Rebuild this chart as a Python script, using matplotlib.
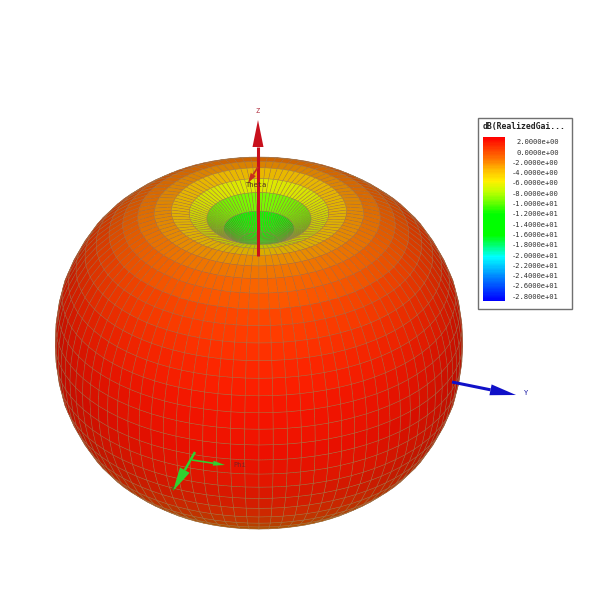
"""Realized gain pattern of a dipole, rendered like an HFSS 3D polar plot."""
import matplotlib

matplotlib.use("Agg")
import matplotlib.pyplot as plt
import numpy as np
from matplotlib.colors import LinearSegmentedColormap, Normalize
from matplotlib.patches import Polygon, Rectangle

# theta = 0..180 in 5 deg steps
theta_deg = list(range(0, 185, 5))
gain_db = [
    -13.0, -13.0, -12.5, -11.0, -8.0, -5.5, -3.5, -2.5, -1.8, -1.2,
    -0.7, -0.2, 0.2, 0.5, 0.8, 1.0, 1.15, 1.25, 1.3,
    1.3, 1.25, 1.1, 0.9, 0.6, 0.1, -0.6, -1.4, -2.2, -3.0,
    -4.0, -5.5, -8.0, -10.5, -12.0, -12.5, -12.5, -12.5,
]
radius = [
    0.50, 0.52, 0.58, 0.67, 0.75, 0.81, 0.86, 0.895, 0.925, 0.945,
    0.96, 0.975, 0.985, 0.99, 0.995, 1.0, 1.0, 1.0, 1.0,
    1.0, 1.0, 1.0, 0.995, 0.99, 0.985, 0.975, 0.96, 0.945, 0.925,
    0.895, 0.86, 0.81, 0.75, 0.67, 0.58, 0.52, 0.50,
]
phi_deg = list(range(0, 364, 4))

legend_title = "dB(RealizedGai..."
legend_values = [2, 0, -2, -4, -6, -8, -10, -12, -14, -16, -18, -20, -22, -24, -26, -28]
legend_labels = [
    "2.0000e+00", "0.0000e+00", "-2.0000e+00", "-4.0000e+00", "-6.0000e+00",
    "-8.0000e+00", "-1.0000e+01", "-1.2000e+01", "-1.4000e+01", "-1.6000e+01",
    "-1.8000e+01", "-2.0000e+01", "-2.2000e+01", "-2.4000e+01", "-2.6000e+01",
    "-2.8000e+01",
]
scale_colors = [
    "#0000ff", "#003cff", "#0078ff", "#00beff", "#00ffff", "#00ff78", "#00ff00",
    "#00ff00", "#00ff00", "#64ff00", "#beff00", "#fff000", "#ffbe00", "#ff7800",
    "#ff3c00", "#ff0000",
]

ELEV, AZIM = 30, 20
cmap = LinearSegmentedColormap.from_list("hfss", scale_colors)
norm = Normalize(-28, 2)

fig = plt.figure(figsize=(6, 6), dpi=100, facecolor="white")

# 3D surface, centred on the body of the pattern
size = 0.98
cx, cy = 251 / 600, 1 - 351 / 600
ax = fig.add_axes([cx - size / 2, cy - size / 2, size, size], projection="3d")
ax.set_proj_type("ortho")
ax.view_init(elev=ELEV, azim=AZIM)

th, ph = np.meshgrid(np.radians(theta_deg), np.radians(phi_deg), indexing="ij")
g = np.array(gain_db)[:, None] * np.ones((1, len(phi_deg)))
r = np.array(radius)[:, None] * np.ones((1, len(phi_deg)))
x = r * np.sin(th) * np.cos(ph)
y = r * np.sin(th) * np.sin(ph)
z = r * np.cos(th)

# light sits a bit above the camera
el, az = np.radians(ELEV + 8), np.radians(AZIM)
light = np.array([np.cos(el) * np.cos(az), np.cos(el) * np.sin(az), np.sin(el)])
p = np.stack([x, y, z], axis=-1)
d1 = p[1:, 1:] - p[:-1, :-1]
d2 = p[1:, :-1] - p[:-1, 1:]
n = np.cross(d1, d2)
n /= np.linalg.norm(n, axis=-1, keepdims=True) + 1e-9
mid = (p[1:, 1:] + p[:-1, :-1]) / 2
n *= np.sign(np.sum(n * mid, axis=-1, keepdims=True))
shade = 0.7 + 0.3 * np.clip(n @ light, 0, 1)
g_face = (g[1:, 1:] + g[:-1, :-1] + g[1:, :-1] + g[:-1, 1:]) / 4
colors = cmap(norm(g_face))
colors[..., :3] *= shade[..., None]

ax.plot_surface(x, y, z, facecolors=colors, rstride=1, cstride=1, shade=False,
                edgecolor=(0.62, 0.5, 0.36, 0.6), linewidth=0.4, antialiased=True)
lim = 0.858
ax.set_xlim(-lim, lim)
ax.set_ylim(-lim, lim)
ax.set_zlim(-lim, lim)
ax.set_box_aspect((1, 1, 1))
ax.set_axis_off()

# overlay in image pixels for the axis triad and legend
ov = fig.add_axes([0, 0, 1, 1], facecolor="none")
ov.set_xlim(0, 600)
ov.set_ylim(600, 0)
ov.axis("off")


def arrow(x0, y0, x1, y1, color, lw, head_w, head_l):
    a = np.array([x0, y0], float)
    b = np.array([x1, y1], float)
    u = (b - a) / np.linalg.norm(b - a)
    v = np.array([-u[1], u[0]])
    base = b - u * head_l
    ov.plot([a[0], base[0]], [a[1], base[1]], color=color, lw=lw, solid_capstyle="butt")
    ov.add_patch(Polygon([b, base + v * head_w / 2, base - v * head_w / 2], color=color, lw=0))


arrow(258, 256, 258, 120, "#c8101c", 2.2, 11, 27)
arrow(258, 167, 248, 183, "#c8301c", 1.2, 6, 10)
arrow(452, 382, 516, 395, "#1010c8", 2.2, 11, 26)
arrow(195, 452, 173, 491, "#30d030", 1.8, 11, 24)
arrow(192, 460, 225, 465, "#30d030", 1.2, 5, 12)

mono = "DejaVu Sans Mono"
ov.text(258, 111, "Z", color="#b03040", fontsize=5, family=mono, ha="center", va="center")
ov.text(256, 185, "Theta", color="#503020", fontsize=5, family=mono, ha="center", va="center")
ov.text(240, 465, "Phi", color="#802020", fontsize=5, family=mono, ha="center", va="center")
ov.text(526, 393, "Y", color="#1010a0", fontsize=5, family=mono, ha="center", va="center")
ov.text(173, 489, "X", color="#208020", fontsize=4.5, family=mono, ha="center", va="center")

ov.add_patch(Rectangle((478, 118), 94, 191, facecolor="white", edgecolor="#707070", lw=1))
ov.text(483, 126, legend_title, fontsize=5.9, family=mono, fontweight="bold", color="#222222",
        ha="left", va="center")
levels = np.array(legend_values, float)
edges = np.linspace(137, 301, len(levels) * 8 + 1)
vals = np.linspace(levels[0], levels[-1], len(edges) - 1)[:, None]
ov.pcolormesh([483, 505], edges, vals, cmap=cmap, norm=norm)
ov.set_xlim(0, 600)
ov.set_ylim(600, 0)
for lab, ypos in zip(legend_labels, np.linspace(142.3, 296.7, len(legend_labels))):
    ov.text(559, ypos, lab, fontsize=5.1, family=mono, color="#303030", ha="right", va="center")

fig.savefig("out.png", dpi=100, facecolor="white")
